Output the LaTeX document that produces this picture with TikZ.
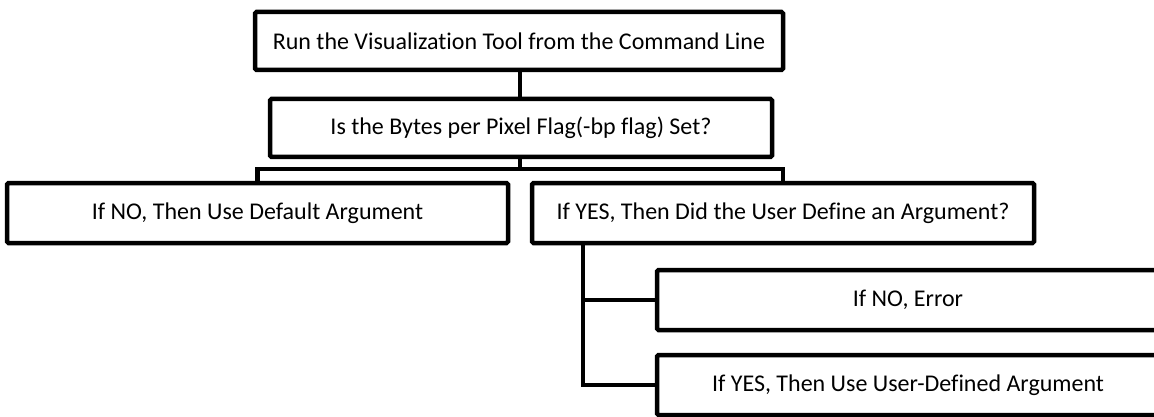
\documentclass[tikz,border=0pt]{standalone}
\usepackage{fontspec}
\setmainfont{Carlito}[Ligatures={NoCommon}]
\begin{document}
\begin{tikzpicture}[x=1pt,y=-1pt,
  box/.style={draw=black, line width=4.5pt, fill=white, rounded corners=1.5pt,
    minimum width=#1, minimum height=60pt, inner sep=0pt, anchor=center,
    font=\fontsize{24}{28}\selectfont},
  box/.default=502pt,
  link/.style={draw=black, line width=4.5pt}]
\clip (0,0) rectangle (1154,417);
\fill[white] (0,0) rectangle (1154,417);
% nodes
\node[box=528pt, minimum height=58pt] (top) at (519,41) {Run the Visualization Tool from the Command Line};
\node[box=502pt, minimum height=58pt] (flag) at (521,128) {Is the Bytes per Pixel Flag(-bp flag) Set?};
\node[box=501pt] (no) at (257.5,213) {If NO, Then Use Default Argument};
\node[box=502pt] (yes) at (783,213) {If YES, Then Did the User Define an Argument?};
\node[box=502pt] (err) at (908,300) {If NO, Error};
\node[box=502pt] (user) at (908,385) {If YES, Then Use User-Defined Argument};
% connectors
\coordinate (fork) at (520,169);
\coordinate (rs) at (583,243);
\draw[link] (top.south -| fork) -- (flag.north -| fork);
\draw[link] (flag.south -| fork) -- (fork);
\draw[link] (fork) -| (no.north);
\draw[link] (fork) -| (yes.north);
\draw[link] (rs) |- (err.west);
\draw[link] (rs) |- (user.west);
\end{tikzpicture}
\end{document}
